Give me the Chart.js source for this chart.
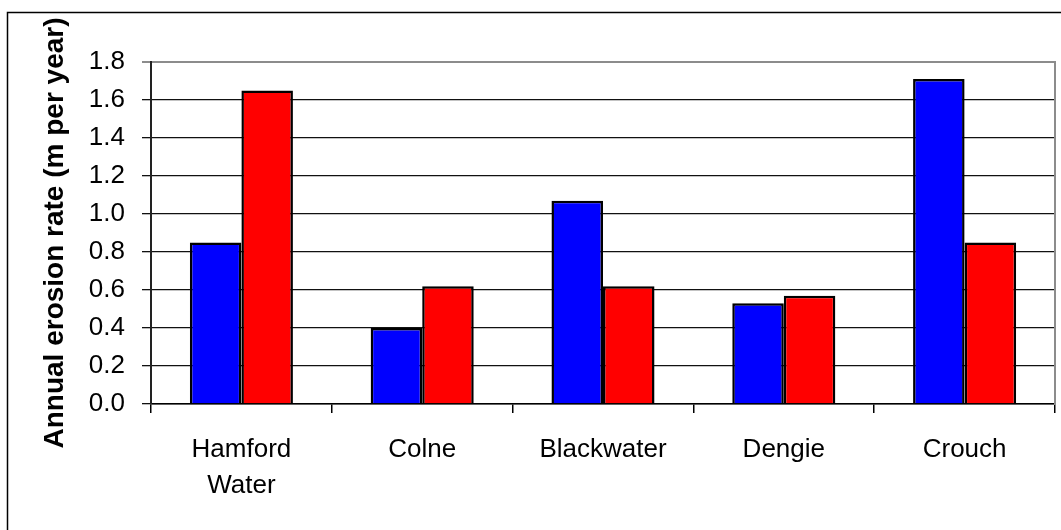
<!DOCTYPE html>
<html>
<head>
<meta charset="utf-8">
<script src="https://cdn.jsdelivr.net/npm/chart.js@4/dist/chart.umd.min.js"></script>
<style>
    html, body { margin: 0; padding: 0; background: #fff; }
    #chart-box { width: 1061px; height: 530px; }
</style>
</head>
<body>
<div id="chart-box"><canvas id="erosionChart" width="1061" height="530"></canvas></div>
<script>
// Dados do gráfico
const categories = [['Hamford', 'Water'], 'Colne', 'Blackwater', 'Dengie', 'Crouch'];
const blueValues = [0.85, 0.40, 1.07, 0.53, 1.71];
const redValues = [1.65, 0.62, 0.62, 0.57, 0.85];
const yTicks = [0, 0.2, 0.4, 0.6, 0.8, 1.0, 1.2, 1.4, 1.6, 1.8];
const yTitle = 'Annual erosion rate (m per year)';

const FONT = "'Liberation Sans', Arial, sans-serif";

// Moldura externa (só as bordas esquerda e superior aparecem)
const framePlugin = {
    id: 'frame',
    beforeDraw(chart) {
        const ctx = chart.ctx;
        ctx.save();
        ctx.strokeStyle = '#000';
        ctx.lineWidth = 1.5;
        ctx.beginPath();
        ctx.moveTo(7.5, chart.height);
        ctx.lineTo(7.5, 12.5);
        ctx.lineTo(chart.width, 12.5);
        ctx.stroke();
        ctx.restore();
    }
};

// Função para montar um conjunto de barras
function barSet(values, color) {
    return {
        data: values,
        backgroundColor: color,
        borderColor: '#000',
        borderWidth: 2.5,
        barPercentage: 1,
        categoryPercentage: 0.57
    };
}

function renderChart() {
    const ctx = document.getElementById('erosionChart').getContext('2d');
    new Chart(ctx, {
        type: 'bar',
        data: {
            labels: categories,
            datasets: [barSet(blueValues, '#0000ff'), barSet(redValues, '#ff0000')]
        },
        options: {
            responsive: false,
            animation: false,
            devicePixelRatio: 1,
            layout: { padding: { left: 0, top: 62, right: 6, bottom: 0 } },
            plugins: { legend: { display: false }, tooltip: { enabled: false } },
            scales: {
                x: {
                    offset: true,
                    grid: { offset: true, drawOnChartArea: false, color: '#000', lineWidth: 1.5, tickLength: 9 },
                    border: { color: '#000', width: 1.5 },
                    ticks: {
                        autoSkip: false,
                        maxRotation: 0,
                        padding: 19,
                        color: '#000',
                        font: { family: FONT, size: 26, lineHeight: 1.38 }
                    },
                    afterFit(scale) { scale.height = 126; }
                },
                y: {
                    min: 0,
                    max: 1.8,
                    afterBuildTicks(scale) { scale.ticks = yTicks.map(v => ({ value: v })); },
                    grid: {
                        color: c => (c.tick && c.tick.value === 1.8) ? '#8c8c8c' : '#111',
                        lineWidth: c => (c.tick && c.tick.value === 1.8) ? 2 : 1.3,
                        tickLength: 9
                    },
                    border: { color: '#222', width: 2 },
                    ticks: {
                        padding: 17,
                        color: '#000',
                        font: { family: FONT, size: 26 },
                        callback: v => Number(v).toFixed(1)
                    },
                    title: {
                        display: true,
                        text: yTitle,
                        color: '#000',
                        padding: { top: 38, bottom: 0 },
                        font: { family: FONT, size: 28, weight: 'bold' }
                    },
                    afterFit(scale) { scale.width = 151; }
                },
                y2: {
                    position: 'right',
                    min: 0,
                    max: 1.8,
                    grid: { drawOnChartArea: false, drawTicks: false },
                    border: { color: '#8c8c8c', width: 2 },
                    ticks: { display: false },
                    afterFit(scale) { scale.width = 0; }
                }
            }
        },
        plugins: [framePlugin]
    });
}

document.addEventListener('DOMContentLoaded', renderChart);
</script>
</body>
</html>
